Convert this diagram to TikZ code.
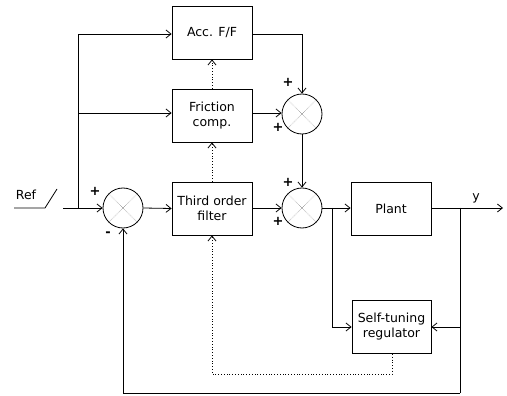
\documentclass[tikz,border=0pt]{standalone}
\usepackage{fontspec}
\setmainfont{DejaVu Sans}
\usetikzlibrary{arrows.meta}
\begin{document}
\begin{tikzpicture}[x=1pt,y=-1pt,
  blk/.style={draw,line width=0.8pt,minimum width=80pt,minimum height=53pt,align=center,font=\fontsize{12.5}{15}\selectfont,inner sep=0pt},
  sumc/.style={draw,circle,line width=0.8pt,minimum size=40pt,inner sep=0pt},
  conn/.style={line width=0.8pt},
  arr/.style={conn,-{Straight Barb[length=5pt,width=8pt]}},
  dotarr/.style={line width=0.8pt,dotted,-{Straight Barb[length=5pt,width=8pt]}},
  sgn/.style={font=\fontsize{13}{15}\selectfont\bfseries,inner sep=0pt},
  lbl/.style={font=\fontsize{12.5}{15}\selectfont,inner sep=0pt},
  xline/.style={gray,line width=0.5pt,densely dotted}
]
\useasboundingbox (0,0) rectangle (507,396);
% blocks
\node[blk] (acc) at (212,32.5) {Acc. F/F};
\node[blk] (fric) at (212,115.5) {Friction\\comp.};
\node[blk] (filt) at (212,208.5) {Third order\\filter};
\node[blk] (plant) at (391,208.5) {Plant};
\node[blk,minimum width=79pt] (str) at (391.5,327) {Self-tuning\\regulator};
% summing junctions
\node[sumc] (s1) at (123,208) {};
\node[sumc] (s2) at (302,114) {};
\node[sumc] (s3) at (302,208) {};
\foreach \s in {s1,s2,s3}{
  \draw[xline] (\s.north west) -- (\s.south east);
  \draw[xline] (\s.north east) -- (\s.south west);
}
% reference input with switch
\coordinate (r0) at (14,208);
\coordinate (r1) at (45,208);
\coordinate (r2) at (57,189);
\coordinate (r3) at (63,208);
\coordinate (br) at (78,208);
\draw[conn] (r0) -- (r1) -- (r2);
\draw[arr] (r3) -- (s1.west);
\node[lbl] (reflbl) at (26,195) {Ref};
% feedforward branches
\coordinate (brtop) at (78,34);
\coordinate (brmid) at (78,113);
\draw[conn] (br) -- (brtop);
\draw[arr] (brtop) -- (brtop -| acc.west);
\draw[arr] (brmid) -- (brmid -| fric.west);
% main path
\draw[arr] (s1.east) -- (filt.west);
\draw[dotarr] (filt.north) -- (fric.south);
\draw[dotarr] (fric.north) -- (acc.south);
\draw[arr] (acc.east |- brtop) -| (s2.north);
\draw[arr] (fric.east |- brmid) -- (brmid -| s2.west);
\draw[arr] (s2.south) -- (s3.north);
\draw[arr] (filt.east |- s3.west) -- (s3.west);
\draw[arr] (s3.east) -- (s3.east -| plant.west);
% output
\coordinate (yout) at (503,208);
\draw[arr] (plant.east |- yout) -- (yout);
\node[lbl] (ylbl) at (476,198) {y};
% branches to self-tuning regulator
\coordinate (bu) at (332,208);
\coordinate (by) at (460,208);
\draw[arr] (bu) |- (str.west);
\draw[arr] (by) |- (str.east);
% feedback
\coordinate (fb) at (460,393);
\draw[conn] (by) -- (fb);
\draw[arr] (fb) -| (s1.south);
% dotted adaptation path
\coordinate (d1) at (392,374);
\draw[dotarr] (str.south -| d1) -- (d1) -| (filt.south);
% signs
\node[sgn] (p1) at (95,191) {+};
\node[sgn] (m1) at (108,234) {-};
\node[sgn] (p2a) at (288,82) {+};
\node[sgn] (p2b) at (278,127) {+};
\node[sgn] (p3a) at (288,182) {+};
\node[sgn] (p3b) at (278,221) {+};
\end{tikzpicture}
\end{document}
